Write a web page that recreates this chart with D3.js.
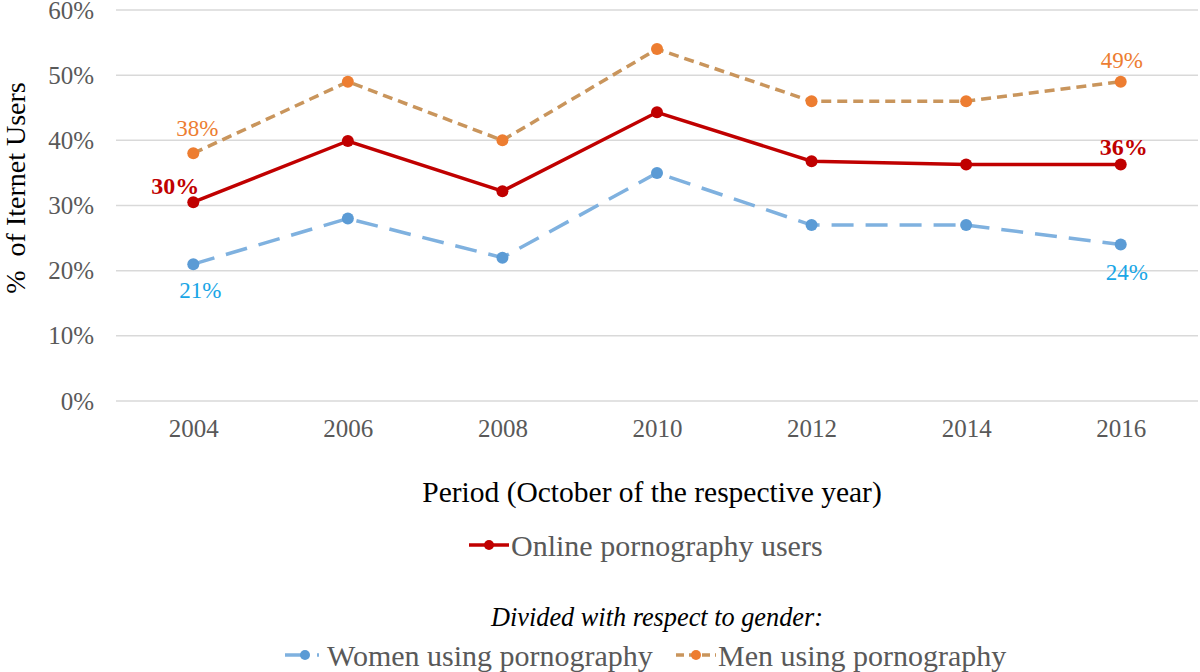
<!DOCTYPE html>
<html>
<head>
<meta charset="utf-8">
<script src="https://cdn.jsdelivr.net/npm/d3@7"></script>
<style>
  body { margin: 0; background: #fff; }
  text { font-family: "Liberation Serif", "Times New Roman", serif; }
</style>
</head>
<body>
<script>
let years = ["2004", "2006", "2008", "2010", "2012", "2014", "2016"];
let onlineUsers = [30.5, 39.9, 32.2, 44.3, 36.8, 36.3, 36.3];
let menUsers = [38, 49, 40, 54, 46, 46, 49];
let womenUsers = [21, 28, 22, 35, 27, 27, 24];
let yTicks = [0, 10, 20, 30, 40, 50, 60];

let width = 1200, height = 672;
let margin = {top: 10, right: 2, bottom: 271, left: 116};

let svg = d3.select("body").append("svg")
    .attr("width", width)
    .attr("height", height);

let x = d3.scalePoint()
    .domain(years)
    .range([margin.left, width - margin.right])
    .padding(0.5);

let y = d3.scaleLinear()
    .domain([0, 60])
    .range([height - margin.bottom, margin.top]);

// gridlines
svg.append("g")
    .selectAll("line")
    .data(yTicks)
    .join("line")
    .attr("x1", margin.left)
    .attr("x2", width - margin.right)
    .attr("y1", d => y(d))
    .attr("y2", d => y(d))
    .attr("stroke", "#d9d9d9")
    .attr("stroke-width", 1.5);

// y axis labels
let yAxis = d3.axisLeft(y)
    .tickValues(yTicks)
    .tickFormat(d => d + "%")
    .tickSize(0)
    .tickPadding(22);

svg.append("g")
    .attr("transform", "translate(" + margin.left + ",0)")
    .call(yAxis)
    .call(g => g.select(".domain").remove())
    .selectAll("text")
    .attr("font-size", 25)
    .attr("fill", "#595959")
    .style("font-family", "Liberation Serif");

// x axis labels
let xAxis = d3.axisBottom(x)
    .tickSize(0)
    .tickPadding(18);

svg.append("g")
    .attr("transform", "translate(0," + y(0) + ")")
    .call(xAxis)
    .call(g => g.select(".domain").remove())
    .selectAll("text")
    .attr("font-size", 25)
    .attr("fill", "#595959")
    .style("font-family", "Liberation Serif");

// axis titles
svg.append("text")
    .attr("transform", "translate(25,188) rotate(-90)")
    .attr("text-anchor", "middle")
    .attr("font-size", 28)
    .attr("fill", "#000")
    .attr("xml:space", "preserve")
    .text("%  of Iternet Users");

svg.append("text")
    .attr("x", 652)
    .attr("y", 502)
    .attr("text-anchor", "middle")
    .attr("font-size", 29.5)
    .attr("fill", "#000")
    .text("Period (October of the respective year)");

let series = [
    {name: "Women using pornography", values: womenUsers, line: "#7fb1df", dot: "#5b9bd5", dash: "22,12", key: "18,14,2,10"},
    {name: "Men using pornography", values: menUsers, line: "#c9955c", dot: "#ed7d31", dash: "10,6", key: "8,5"},
    {name: "Online pornography users", values: onlineUsers, line: "#c00000", dot: "#c00000", dash: null, key: null}
];

let line = d3.line()
    .x((d, i) => x(years[i]))
    .y(d => y(d));

series.forEach(function (s) {
    svg.append("path")
        .datum(s.values)
        .attr("d", line)
        .attr("fill", "none")
        .attr("stroke", s.line)
        .attr("stroke-width", 3.5)
        .attr("stroke-dasharray", s.dash);

    svg.append("g")
        .selectAll("circle")
        .data(s.values)
        .join("circle")
        .attr("cx", (d, i) => x(years[i]))
        .attr("cy", d => y(d))
        .attr("r", 6)
        .attr("fill", s.dot);
});

// data labels at the first and last points
let labels = [
    {i: 0, v: menUsers[0], text: "38%", dx: 4, dy: -17, color: "#ed7d31", bold: false},
    {i: 6, v: menUsers[6], text: "49%", dx: 1, dy: -14, color: "#ed7d31", bold: false},
    {i: 0, v: womenUsers[0], text: "21%", dx: 7, dy: 34, color: "#1aa6e6", bold: false},
    {i: 6, v: womenUsers[6], text: "24%", dx: 6, dy: 35, color: "#1aa6e6", bold: false},
    {i: 0, v: onlineUsers[0], text: "30%", dx: -18, dy: -8, color: "#c00000", bold: true},
    {i: 6, v: onlineUsers[6], text: "36%", dx: 3, dy: -9, color: "#c00000", bold: true}
];

svg.append("g")
    .selectAll("text")
    .data(labels)
    .join("text")
    .attr("x", d => x(years[d.i]) + d.dx)
    .attr("y", d => y(d.v) + d.dy)
    .attr("text-anchor", "middle")
    .attr("font-size", d => d.bold ? 24 : 23)
    .attr("font-weight", d => d.bold ? "bold" : "normal")
    .attr("fill", d => d.color)
    .text(d => d.text);

// legend
function legendItem(cx, cy, s) {
    let g = svg.append("g");
    g.append("line")
        .attr("x1", cx - 20).attr("x2", cx + 20)
        .attr("y1", cy).attr("y2", cy)
        .attr("stroke", s.line)
        .attr("stroke-width", 3.5)
        .attr("stroke-dasharray", s.key);
    g.append("circle")
        .attr("cx", cx).attr("cy", cy).attr("r", 5)
        .attr("fill", s.dot);
    g.append("text")
        .attr("x", cx + 22)
        .attr("y", cy)
        .attr("dy", "0.35em")
        .attr("font-size", 30)
        .attr("fill", "#595959")
        .text(s.name);
}

legendItem(489, 545, series[2]);

svg.append("text")
    .attr("x", 657)
    .attr("y", 626)
    .attr("text-anchor", "middle")
    .attr("font-size", 26.3)
    .attr("font-style", "italic")
    .attr("fill", "#000")
    .text("Divided with respect to gender:");

legendItem(305, 655, series[0]);
legendItem(696, 655, series[1]);
</script>
</body>
</html>
